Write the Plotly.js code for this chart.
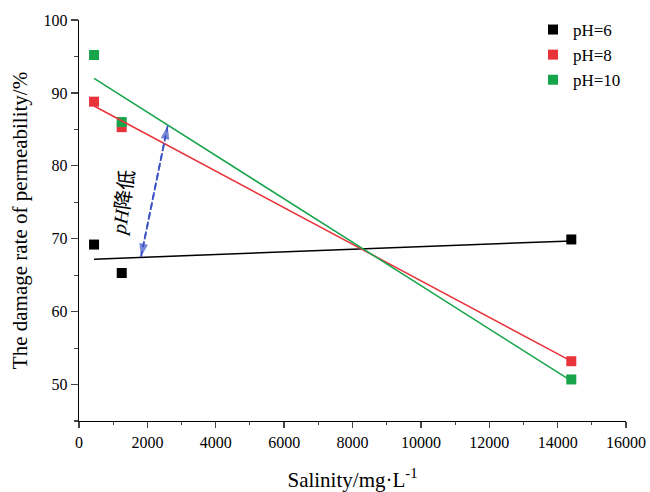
<!DOCTYPE html>
<html><head><meta charset="utf-8">
<script src="https://cdn.plot.ly/plotly-3.0.1.min.js"></script>
<style>body{margin:0;background:#fff}#chart{width:650px;height:492px}</style>
</head><body><div id="chart"></div>
<script>
const seriesNames = ['pH=6', 'pH=8', 'pH=10'];
const salinity = [440, 1250, 14400];
const damage6 = [69.2, 65.3, 69.9];
const damage8 = [88.8, 85.3, 53.2];
const damage10 = [95.2, 86.0, 50.7];
const fitX = [440, 14400];
const fit6 = [67.2, 69.7];
const fit8 = [88.2, 53.2];
const fit10 = [92.0, 50.5];
const arrowTop = [2594, 85.5];
const arrowBottom = [1813, 67.5];
const labelPos = [1287, 74.9];
const colors = ['#000000', '#e8333a', '#16a54b'];
const arrowColor = '#3a52c4';

const serif = 'Liberation Serif, Times New Roman, serif';
const traces = [];
[damage6, damage8, damage10].forEach((d, i) => {
  traces.push({x: salinity, y: d, mode: 'markers', type: 'scatter', name: seriesNames[i],
    marker: {symbol: 'square', size: 10, color: colors[i]}});
});
[fit6, fit8, fit10].forEach((f, i) => {
  traces.push({x: fitX, y: f, mode: 'lines', type: 'scatter', showlegend: false,
    line: {color: colors[i], width: 1.5}, hoverinfo: 'skip'});
});
// dashed blue double arrow: one trace each way, arrowhead marker at end point only
[[arrowBottom, arrowTop], [arrowTop, arrowBottom]].forEach(pair => {
  traces.push({x: [pair[0][0], pair[1][0]], y: [pair[0][1], pair[1][1]], mode: 'lines+markers',
    type: 'scatter', showlegend: false, hoverinfo: 'skip',
    line: {color: arrowColor, width: 1.8, dash: '6px,4px'},
    marker: {symbol: 'arrow', angleref: 'previous', size: [0, 14], color: arrowColor,
      line: {width: 0}}});
});

const layout = {
  width: 650, height: 492,
  margin: {l: 79, r: 24, t: 15, b: 71},
  paper_bgcolor: '#fff', plot_bgcolor: '#fff',
  font: {family: serif, size: 16, color: '#000'},
  xaxis: {range: [0, 16000], dtick: 2000, tick0: 0, showgrid: false, zeroline: false,
    tickformat: 'd',
    showline: true, linecolor: '#000', linewidth: 1.3, ticks: 'outside', ticklen: 6, tickwidth: 1.3,
    minor: {dtick: 1000, ticks: 'outside', ticklen: 3, tickwidth: 1.1, showgrid: false},
    tickfont: {family: serif, size: 16},
    title: {text: 'Salinity/mg·L<sup>-1</sup>', font: {family: serif, size: 21}, standoff: 22}},
  yaxis: {range: [45, 100], dtick: 10, tick0: 50, showgrid: false, zeroline: false,
    showline: true, linecolor: '#000', linewidth: 1.3, ticks: 'outside', ticklen: 7, tickwidth: 1.3,
    minor: {dtick: 5, ticks: 'outside', ticklen: 4, tickwidth: 1.1, showgrid: false},
    tickfont: {family: serif, size: 16},
    title: {text: 'The damage rate of permeability/%', font: {family: serif, size: 21}, standoff: 10}},
  legend: {x: 0.83, y: 1.02, xanchor: 'left', yanchor: 'top', bgcolor: 'rgba(0,0,0,0)',
    font: {family: serif, size: 17}, itemwidth: 30, tracegroupgap: 0},
  showlegend: true,
  annotations: [
    {x: labelPos[0], y: labelPos[1], xref: 'x', yref: 'y', showarrow: false, textangle: -82,
      text: '<i>pH</i>降低', font: {family: 'Liberation Serif, Noto Sans CJK SC, serif', size: 20, color: '#000'}}
  ]
};
Plotly.newPlot('chart', traces, layout, {displayModeBar: false, staticPlot: true});
</script></body></html>
